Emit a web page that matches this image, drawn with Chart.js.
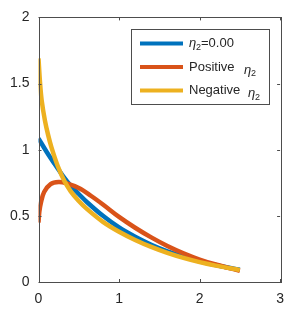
<!DOCTYPE html>
<html>
<head>
<meta charset="utf-8">
<script src="https://cdn.jsdelivr.net/npm/chart.js@4"></script>
<style>
  html, body { margin: 0; padding: 0; background: #fff; }
  canvas { display: block; }
</style>
</head>
<body>
<canvas id="chart" width="293" height="315"></canvas>
<script>
// Data
const xTicks = [0, 1, 2, 3];
const yTicks = [0, 0.5, 1, 1.5, 2];

const xBlue = [0, 0.1, 0.2, 0.3, 0.4, 0.5, 0.6, 0.8, 1.0, 1.2, 1.4, 1.6, 1.8, 2.0, 2.2, 2.5];
const yBlue = [1.085, 0.985, 0.893, 0.805, 0.728, 0.665, 0.605, 0.5, 0.412, 0.342, 0.282, 0.232, 0.192, 0.157, 0.128, 0.092];

const xRed = [0, 0.01, 0.03, 0.07, 0.15, 0.25, 0.35, 0.5, 0.65, 0.8, 1.0, 1.2, 1.4, 1.6, 1.8, 2.0, 2.2, 2.5];
const yRed = [0.45, 0.53, 0.6, 0.68, 0.74, 0.755, 0.745, 0.71, 0.652, 0.586, 0.492, 0.41, 0.337, 0.272, 0.217, 0.17, 0.132, 0.085];

const xYellow = [0, 0.02, 0.04, 0.08, 0.12, 0.16, 0.24, 0.32, 0.4, 0.5, 0.6, 0.8, 1.0, 1.2, 1.4, 1.6, 1.8, 2.0, 2.2, 2.5];
const yYellow = [1.69, 1.5, 1.37, 1.22, 1.11, 1.02, 0.875, 0.765, 0.685, 0.612, 0.553, 0.455, 0.38, 0.318, 0.265, 0.22, 0.182, 0.15, 0.124, 0.09];

const seriesNames = ['=0.00', 'Positive', 'Negative'];
const seriesColors = ['#0072BD', '#D95319', '#EDB120'];

function toPoints(xs, ys) {
  return xs.map((x, i) => ({ x: x, y: ys[i] }));
}

const FONT = '"Liberation Sans", Arial, Helvetica, sans-serif';
const TEXT = '#262626';
const AXIS = '#4d4d4d';

// Box round the axes with inward ticks on every side
const boxPlugin = {
  id: 'box',
  afterDraw(chart) {
    const { ctx, chartArea: a, scales } = chart;
    ctx.save();
    ctx.strokeStyle = AXIS;
    ctx.lineWidth = 1;
    ctx.strokeRect(Math.round(a.left) + 0.5, Math.round(a.top) + 0.5,
      Math.round(a.right - a.left), Math.round(a.bottom - a.top));
    const len = 3;
    ctx.beginPath();
    xTicks.forEach(v => {
      const px = Math.round(scales.x.getPixelForValue(v)) + 0.5;
      ctx.moveTo(px, a.bottom); ctx.lineTo(px, a.bottom - len);
      ctx.moveTo(px, a.top); ctx.lineTo(px, a.top + len);
    });
    yTicks.forEach(v => {
      const py = Math.round(scales.y.getPixelForValue(v)) + 0.5;
      ctx.moveTo(a.left, py); ctx.lineTo(a.left + len, py);
      ctx.moveTo(a.right, py); ctx.lineTo(a.right - len, py);
    });
    ctx.stroke();
    ctx.restore();
  }
};

// MATLAB style legend box
const legendPlugin = {
  id: 'matLegend',
  afterDraw(chart) {
    const ctx = chart.ctx;
    const bx = 131.5, by = 29.5, bw = 138, bh = 75;
    ctx.save();
    ctx.fillStyle = '#fff';
    ctx.fillRect(bx, by, bw, bh);
    ctx.strokeStyle = AXIS;
    ctx.lineWidth = 1;
    ctx.strokeRect(bx, by, bw, bh);
    const rows = [43.5, 67, 90.5];
    ctx.textBaseline = 'middle';
    rows.forEach((y, i) => {
      ctx.strokeStyle = seriesColors[i];
      ctx.lineWidth = 4;
      ctx.beginPath();
      ctx.moveTo(140, y);
      ctx.lineTo(183, y);
      ctx.stroke();
      ctx.fillStyle = TEXT;
      if (i === 0) {
        ctx.font = 'italic 13px ' + FONT;
        ctx.fillText('\u03b7', 189, y);
        ctx.font = '9px ' + FONT;
        ctx.fillText('2', 196, y + 4);
        ctx.font = '13px ' + FONT;
        ctx.fillText(seriesNames[i], 201, y);
      } else {
        ctx.font = '13px ' + FONT;
        ctx.fillText(seriesNames[i], 189, y);
        const ex = i === 1 ? 244 : 248;
        ctx.font = 'italic 13px ' + FONT;
        ctx.fillText('\u03b7', ex, y + 3);
        ctx.font = '9px ' + FONT;
        ctx.fillText('2', ex + 7, y + 7);
      }
    });
    ctx.restore();
  }
};

const lineStyle = {
  borderWidth: 4.5,
  pointRadius: 0,
  fill: false,
  tension: 0.35,
  borderCapStyle: 'butt'
};

new Chart(document.getElementById('chart'), {
  type: 'line',
  data: {
    datasets: [
      { ...lineStyle, data: toPoints(xBlue, yBlue), borderColor: seriesColors[0], order: 3 },
      { ...lineStyle, data: toPoints(xRed, yRed), borderColor: seriesColors[1], order: 2 },
      { ...lineStyle, data: toPoints(xYellow, yYellow), borderColor: seriesColors[2], order: 1 }
    ]
  },
  options: {
    responsive: false,
    animation: false,
    devicePixelRatio: 1,
    layout: { padding: { left: 0, right: 10, top: 15, bottom: 0 } },
    plugins: { legend: { display: false }, tooltip: { enabled: false } },
    scales: {
      x: {
        type: 'linear',
        min: 0,
        max: 3,
        afterBuildTicks: s => { s.ticks = xTicks.map(v => ({ value: v })); },
        afterFit: s => { s.height = 33; },
        grid: { display: false, drawTicks: false },
        border: { display: false },
        ticks: { color: TEXT, font: { family: FONT, size: 14 }, padding: 9, maxRotation: 0, callback: v => String(v) }
      },
      y: {
        type: 'linear',
        min: 0,
        max: 2,
        afterBuildTicks: s => { s.ticks = yTicks.map(v => ({ value: v })); },
        afterFit: s => { s.width = 38.5; },
        grid: { display: false, drawTicks: false },
        border: { display: false },
        ticks: { color: TEXT, font: { family: FONT, size: 14 }, padding: 9, callback: v => String(v) }
      }
    }
  },
  plugins: [boxPlugin, legendPlugin]
});
</script>
</body>
</html>
